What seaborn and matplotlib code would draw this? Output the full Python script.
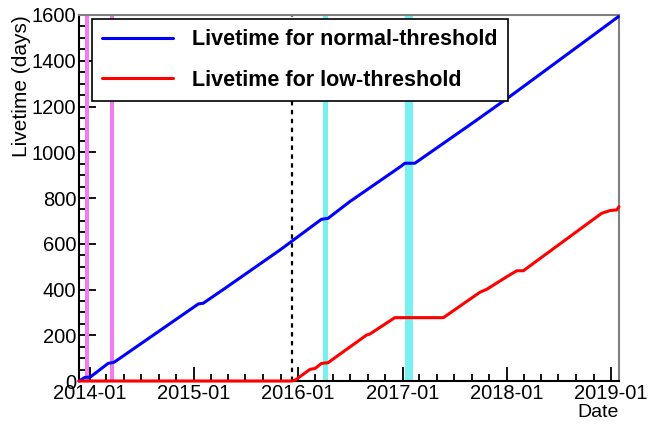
import pandas as pd
import numpy as np
import seaborn as sns
import matplotlib.pyplot as plt
import matplotlib.dates as mdates
from matplotlib.ticker import MultipleLocator

# livetime curves (date, accumulated livetime in days)
normal_dates = ['2013-11-25', '2013-12-16', '2014-01-03', '2014-03-07', '2014-03-28',
                '2015-01-17', '2015-02-03', '2015-04-20', '2015-10-30', '2016-03-23',
                '2016-04-15', '2016-06-30', '2016-12-28', '2017-01-09', '2017-02-13',
                '2017-08-24', '2018-01-11', '2019-01-27']
normal_live = [0, 16, 17, 77, 82, 337, 340, 405, 573, 707, 711, 784, 940, 952, 952,
               1119, 1243, 1593]

low_dates = ['2013-11-25', '2015-12-10', '2015-12-22', '2016-02-12', '2016-03-01',
             '2016-03-23', '2016-04-15', '2016-08-28', '2016-09-08', '2016-12-05',
             '2017-05-24', '2017-09-29', '2017-10-23', '2018-01-01', '2018-02-05',
             '2018-02-28', '2018-11-29', '2018-12-28', '2019-01-21', '2019-01-29']
low_live = [0, 0, 4, 51, 55, 77, 80, 201, 205, 277, 277, 388, 401, 456, 482, 482,
            733, 745, 748, 762]

# shaded periods
magenta_periods = [('2013-12-16', '2013-12-30'), ('2014-03-14', '2014-03-28')]
cyan_periods = [('2016-03-27', '2016-04-14'), ('2017-01-10', '2017-02-07')]
low_start = '2015-12-10'

normal = pd.DataFrame({'date': pd.to_datetime(normal_dates), 'live': normal_live})
low = pd.DataFrame({'date': pd.to_datetime(low_dates), 'live': low_live})

sns.set_style('ticks')
plt.rcParams['font.family'] = ['Liberation Sans', 'DejaVu Sans']
plt.rcParams['text.color'] = 'black'
plt.rcParams['axes.labelcolor'] = 'black'

fig, ax = plt.subplots(figsize=(6.6, 4.26), dpi=100)
fig.subplots_adjust(left=0.1197, right=0.9379, bottom=0.1056, top=0.9648)

for a, b in magenta_periods:
    ax.axvspan(pd.Timestamp(a), pd.Timestamp(b), color='#f27af2', lw=0, zorder=1)
for a, b in cyan_periods:
    ax.axvspan(pd.Timestamp(a), pd.Timestamp(b), color='#78f0f0', lw=0, zorder=1)
ax.axvline(pd.Timestamp(low_start), color='black', ls=(0, (2, 2)), lw=1.6, zorder=2)

sns.lineplot(data=normal, x='date', y='live', ax=ax, color='#0000ff', lw=2.2,
             label='Livetime for normal-threshold', zorder=4, clip_on=False)
sns.lineplot(data=low, x='date', y='live', ax=ax, color='#ff0000', lw=2.2,
             label='Livetime for low-threshold', zorder=4, clip_on=False)

ax.set_xlim(pd.Timestamp('2013-11-25'), pd.Timestamp('2019-01-29'))
ax.set_ylim(0, 1600)

ax.xaxis.set_major_locator(mdates.YearLocator())
ax.xaxis.set_minor_locator(mdates.MonthLocator(bymonth=[3, 5, 7, 9, 11]))
ax.xaxis.set_major_formatter(mdates.DateFormatter('%Y-%m'))
ax.yaxis.set_major_locator(MultipleLocator(200))
ax.yaxis.set_minor_locator(MultipleLocator(50))

ax.tick_params(axis='both', which='both', direction='in', labelsize=14.5,
               colors='black', width=1.3, top=False, right=False)
ax.tick_params(axis='y', which='major', length=12, pad=2)
ax.tick_params(axis='y', which='minor', length=6)
ax.tick_params(axis='x', which='major', length=10, pad=2)
ax.tick_params(axis='x', which='minor', length=5)

for s in ['left', 'bottom']:
    ax.spines[s].set_color('black')
    ax.spines[s].set_linewidth(1.5)
for s in ['top', 'right']:
    ax.spines[s].set_visible(True)
    ax.spines[s].set_color('#808080')
    ax.spines[s].set_linewidth(1.5)

ax.set_xlabel('Date', fontsize=14, loc='right', labelpad=1, color='black')
ax.set_ylabel('Livetime (days)', fontsize=15, loc='top', color='black')
ax.yaxis.set_label_coords(-0.088, 1.0)

leg = ax.legend(loc='upper left', bbox_to_anchor=(0.024, 0.989), fancybox=False,
                edgecolor='black', framealpha=1, prop={'weight': 'bold', 'size': 15.5},
                handlelength=3.3, handletextpad=0.9, labelspacing=0.9,
                borderpad=0.47, borderaxespad=0, labelcolor='black')
leg.get_frame().set_linewidth(1.2)
leg.set_zorder(5)

fig.savefig('out.png', dpi=100)
